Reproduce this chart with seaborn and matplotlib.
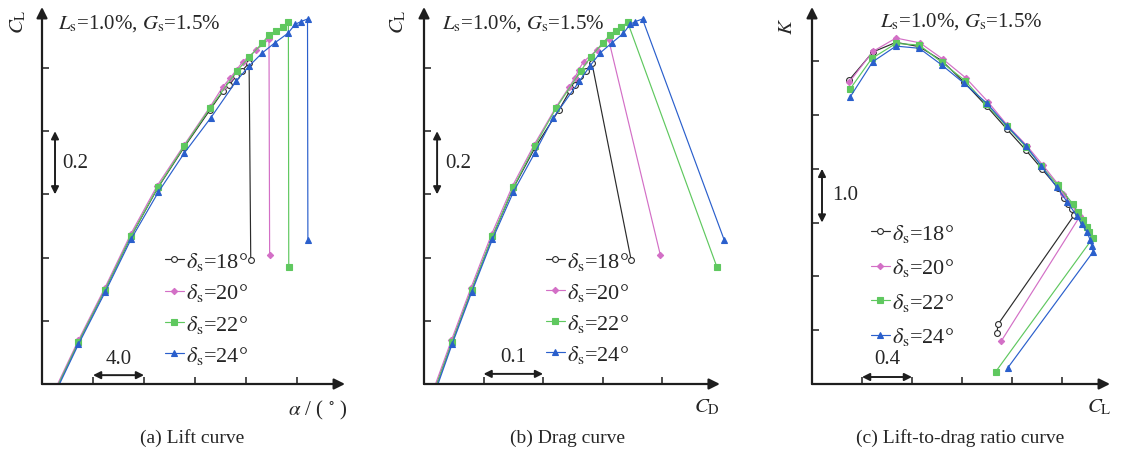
import numpy as np
import pandas as pd
import seaborn as sns
import matplotlib
matplotlib.use("Agg")
import matplotlib.pyplot as plt

sns.set_style("white")
plt.rcParams["font.family"] = ["Liberation Serif", "DejaVu Serif"]
plt.rcParams["mathtext.fontset"] = "stix"

W, H = 1123, 452

# --- data ---
deltas = [18, 20, 22, 24]
colors = ["#2b2b2b", "#d36fc6", "#5fc85f", "#2a5fcc"]

# panel (a) / (b): alpha, CL, CD for each flap deflection (last point = post stall)
alpha_18 = [-3.1, -1.15, 0.94, 2.98, 5.07, 7.16, 9.18, 10.22, 10.69, 11.22, 11.71, 12.24, 12.37]
cl_18 = [-0.034, 0.132, 0.298, 0.467, 0.620, 0.750, 0.868, 0.928, 0.946, 0.975, 0.992, 1.016, 0.392]
cd_18 = [0.015, 0.047, 0.080, 0.115, 0.150, 0.187, 0.227, 0.245, 0.254, 0.262, 0.272, 0.282, 0.348]

alpha_20 = [-3.1, -1.15, 0.94, 2.98, 5.04, 7.16, 9.18, 10.17, 10.75, 11.27, 11.74, 12.78, 13.80, 13.85]
cl_20 = [-0.028, 0.138, 0.305, 0.476, 0.628, 0.757, 0.877, 0.940, 0.968, 0.995, 1.020, 1.056, 1.091, 0.408]
cd_20 = [0.014, 0.046, 0.079, 0.114, 0.149, 0.185, 0.222, 0.244, 0.253, 0.260, 0.268, 0.290, 0.310, 0.397]

alpha_22 = [-3.1, -1.15, 0.94, 2.98, 5.07, 7.16, 9.18, 11.27, 12.26, 13.28, 13.80, 14.33, 14.88, 15.32, 15.35]
cl_22 = [-0.034, 0.132, 0.298, 0.468, 0.622, 0.753, 0.873, 0.990, 1.035, 1.079, 1.105, 1.117, 1.129, 1.145, 0.370]
cd_22 = [0.015, 0.047, 0.080, 0.115, 0.150, 0.186, 0.222, 0.263, 0.280, 0.300, 0.313, 0.322, 0.331, 0.342, 0.492]

alpha_24 = [-3.1, -1.15, 0.94, 2.98, 5.12, 7.16, 9.23, 11.22, 12.26, 13.28, 14.27, 15.29, 15.84, 16.31, 16.82, 16.85]
cl_24 = [-0.040, 0.125, 0.290, 0.458, 0.607, 0.731, 0.842, 0.958, 1.007, 1.048, 1.080, 1.110, 1.138, 1.147, 1.155, 0.457]
cd_24 = [0.016, 0.047, 0.080, 0.115, 0.150, 0.186, 0.217, 0.261, 0.279, 0.296, 0.316, 0.335, 0.346, 0.355, 0.367, 0.504]

# panel (c): CL and K
clc_18 = [0.298, 0.486, 0.672, 0.858, 1.038, 1.216, 1.398, 1.558, 1.710, 1.838, 1.970, 2.016, 2.050, 2.078, 2.098, 1.490, 1.478]
k_18 = [5.65, 6.17, 6.35, 6.27, 6.01, 5.61, 5.16, 4.74, 4.35, 4.00, 3.64, 3.45, 3.35, 3.25, 3.14, 1.115, 0.94]

clc_20 = [0.298, 0.486, 0.672, 0.864, 1.046, 1.230, 1.406, 1.562, 1.718, 1.846, 1.966, 2.010, 2.070, 2.117, 2.144, 1.512]
k_20 = [5.61, 6.18, 6.43, 6.34, 6.04, 5.69, 5.25, 4.81, 4.43, 4.07, 3.72, 3.53, 3.35, 3.19, 3.12, 0.79]

clc_22 = [0.304, 0.478, 0.672, 0.858, 1.038, 1.224, 1.392, 1.558, 1.710, 1.832, 1.964, 2.086, 2.130, 2.170, 2.198, 2.218, 2.246, 1.470]
k_22 = [5.48, 6.05, 6.33, 6.30, 5.98, 5.64, 5.20, 4.79, 4.41, 4.06, 3.70, 3.35, 3.19, 3.04, 2.91, 2.82, 2.71, 0.23]

clc_24 = [0.304, 0.486, 0.672, 0.858, 1.038, 1.216, 1.398, 1.558, 1.710, 1.835, 1.957, 2.043, 2.117, 2.157, 2.202, 2.224, 2.237, 2.250, 1.566]
k_24 = [5.33, 5.99, 6.28, 6.24, 5.93, 5.59, 5.22, 4.80, 4.43, 4.05, 3.66, 3.38, 3.13, 2.97, 2.82, 2.68, 2.57, 2.46, 0.30]

alphas = [alpha_18, alpha_20, alpha_22, alpha_24]
cls = [cl_18, cl_20, cl_22, cl_24]
cds = [cd_18, cd_20, cd_22, cd_24]
clcs = [clc_18, clc_20, clc_22, clc_24]
ks = [k_18, k_20, k_22, k_24]

marker_style = [
    dict(marker="o", markersize=4.2, markerfacecolor="white"),
    dict(marker="D", markersize=3.2),
    dict(marker="s", markersize=3.8),
    dict(marker="^", markersize=4.2),
]


def box(x0, y_top, x1, y_bot):
    return [x0 / W, 1 - y_bot / H, (x1 - x0) / W, (y_bot - y_top) / H]


def fx(x):
    return x / W


def fy(y):
    return 1 - y / H


fig = plt.figure(figsize=(W / 100, H / 100), dpi=100)
ax_a = fig.add_axes(box(42, 8, 345, 385))
ax_b = fig.add_axes(box(424, 8, 733, 385))
ax_c = fig.add_axes(box(812, 8, 1110, 385))

axis_col = "#1e1e1e"


def draw_series(ax, xs, ys):
    for d, c, x, y, ms in zip(deltas, colors, xs, ys, marker_style):
        df = pd.DataFrame({"x": x, "y": y})
        kw = dict(ms)
        kw.setdefault("markerfacecolor", c)
        sns.lineplot(data=df, x="x", y="y", sort=False, estimator=None, color=c,
                     linewidth=0.85, markeredgecolor=c, markeredgewidth=0.8,
                     label=r"$\delta_{\mathrm{s}}$=%d°" % d, ax=ax, **kw)


def style_axes(ax, xlim, ylim, xticks, yticks, xend):
    ax.set_xlim(*xlim)
    ax.set_ylim(*ylim)
    ax.set_xticks(xticks)
    ax.set_yticks(yticks)
    ax.set_xticklabels([])
    ax.set_yticklabels([])
    ax.set_xlabel("")
    ax.set_ylabel("")
    for s in ax.spines.values():
        s.set_visible(False)
    ax.tick_params(direction="in", length=5, width=1.1, color=axis_col,
                   bottom=True, left=True)
    ap = dict(arrowstyle="-|>", color=axis_col, lw=1.6, mutation_scale=16,
              shrinkA=0, shrinkB=0)
    ax.annotate("", xy=(xend, 0), xytext=(xlim[0], 0), xycoords=ax.get_xaxis_transform(),
                arrowprops=ap, annotation_clip=False)
    ax.annotate("", xy=(0, 1), xytext=(0, 0), xycoords="axes fraction",
                arrowprops=ap, annotation_clip=False)


def scale_bar(ax, p0, p1, label, lpos, ha):
    ax.annotate("", xy=p1, xytext=p0,
                arrowprops=dict(arrowstyle="<|-|>", color=axis_col, lw=1.4,
                                mutation_scale=11, shrinkA=0, shrinkB=0),
                annotation_clip=False)
    ax.text(lpos[0], lpos[1], label, ha=ha, va="center", fontsize=15)


# (a) lift curve
draw_series(ax_a, alphas, cls)
style_axes(ax_a, (-4, 19.76), (0, 1.193), [0, 4, 8, 12, 16], [0.2, 0.4, 0.6, 0.8, 1.0], 19.76)
scale_bar(ax_a, (-2.98, 0.6), (-2.98, 0.8), "0.2", (-2.45, 0.7), "left")
scale_bar(ax_a, (0, 0.028), (4, 0.028), "4.0", (2, 0.082), "center")

# (b) drag curve
draw_series(ax_b, cds, cls)
style_axes(ax_b, (0, 0.519), (0, 1.193), [0.1, 0.2, 0.3, 0.4], [0.2, 0.4, 0.6, 0.8, 1.0], 0.497)
scale_bar(ax_b, (0.022, 0.6), (0.022, 0.8), "0.2", (0.035, 0.7), "left")
scale_bar(ax_b, (0.1, 0.032), (0.2, 0.032), "0.1", (0.15, 0.087), "center")

# (c) lift-to-drag ratio curve
draw_series(ax_c, clcs, ks)
style_axes(ax_c, (0, 2.384), (0, 7.007), [0.4, 0.8, 1.2, 1.6, 2.0], [1, 2, 3, 4, 5, 6], 2.384)
scale_bar(ax_c, (0.08, 3), (0.08, 4), "1.0", (0.16, 3.53), "left")
scale_bar(ax_c, (0.4, 0.13), (0.8, 0.13), "0.4", (0.6, 0.47), "center")

# legends
for ax, (lx, ly), sp in zip([ax_a, ax_b, ax_c], [(165, 251), (546, 251), (871, 223)],
                            [0.42, 0.40, 0.56]):
    ax.legend(loc="upper left", bbox_to_anchor=(fx(lx), fy(ly)), bbox_transform=fig.transFigure,
              frameon=False, fontsize=16, handlelength=0.85, handletextpad=0.1,
              labelspacing=sp, borderpad=0, borderaxespad=0)

# condition text
cond = r"$L_{\mathrm{s}}$=1.0%, $G_{\mathrm{s}}$=1.5%"
for x0, y0 in [(58, 24), (442, 24), (880, 22)]:
    fig.text(fx(x0), fy(y0), cond, ha="left", va="center", fontsize=15)

# axis labels
fig.text(fx(18), fy(22), r"$C_{\mathrm{L}}$", rotation=90, ha="center", va="center", fontsize=15)
fig.text(fx(398), fy(22), r"$C_{\mathrm{L}}$", rotation=90, ha="center", va="center", fontsize=15)
fig.text(fx(787), fy(26), r"$K$", rotation=90, ha="center", va="center", fontsize=15)
fig.text(fx(318), fy(410), r"$\alpha$ / ( $^{\circ}$ )", ha="center", va="center", fontsize=15)
fig.text(fx(707), fy(407), r"$C_{\mathrm{D}}$", ha="center", va="center", fontsize=15)
fig.text(fx(1099), fy(407), r"$C_{\mathrm{L}}$", ha="center", va="center", fontsize=15)

# captions
for x0, txt in [(192, "(a) Lift curve"), (568, "(b) Drag curve"), (960, "(c) Lift-to-drag ratio curve")]:
    fig.text(fx(x0), fy(438), txt, ha="center", va="center", fontsize=14)

fig.savefig("out.png", dpi=100)
